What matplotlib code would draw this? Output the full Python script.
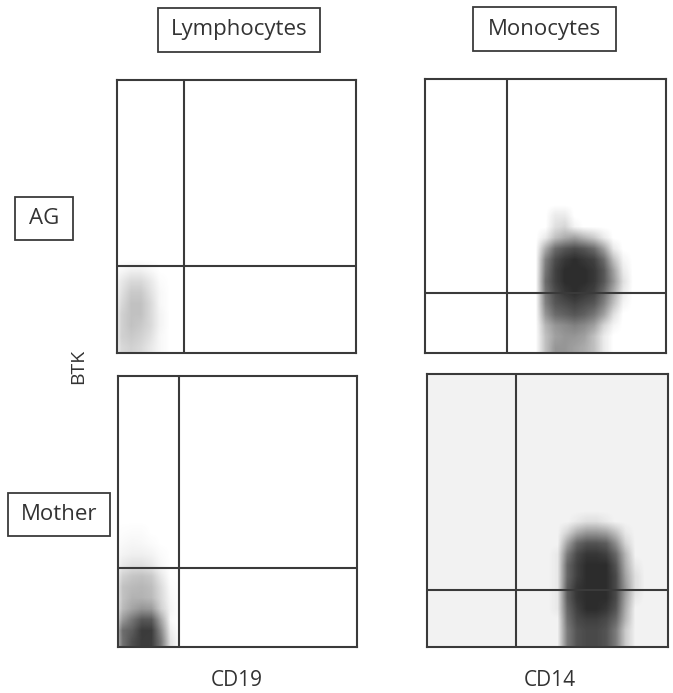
import numpy as np
import matplotlib.pyplot as plt
from matplotlib.colors import LinearSegmentedColormap
from matplotlib.patches import Rectangle

# column / row headers
col_names = ['Lymphocytes', 'Monocytes']
row_names = ['AG', 'Mother']
x_labels = ['CD19', 'CD14']
y_label = 'BTK'

# quadrant gates (percent of axis), [AG, Mother] x [lymph, mono]
gate_x = [[28, 34], [25.5, 37]]
gate_y = [[32, 22], [29, 21]]

# event density, rows bottom -> top
ag_lymph_ext = [0, 24, 0, 32]
ag_lymph = [
    [0.5, 0.6, 0.5, 0.3, 0.1, 0],
    [0.6, 0.7, 0.6, 0.4, 0.1, 0],
    [0.6, 0.8, 0.7, 0.5, 0.15, 0],
    [0.6, 0.8, 0.8, 0.5, 0.15, 0],
    [0.5, 0.8, 0.8, 0.5, 0.1, 0],
    [0.4, 0.7, 0.7, 0.4, 0.1, 0],
    [0.3, 0.5, 0.5, 0.3, 0.05, 0],
    [0.1, 0.2, 0.2, 0.1, 0, 0],
]

ag_mono_ext = [48, 84, 0, 52]
ag_mono = [
    [0.3, 0.5, 0.5, 0.45, 0.4, 0.3, 0.1, 0, 0],
    [0.3, 0.45, 0.5, 0.5, 0.45, 0.3, 0.1, 0, 0],
    [0.35, 0.5, 0.55, 0.6, 0.55, 0.45, 0.2, 0.05, 0],
    [0.5, 0.7, 0.75, 0.8, 0.75, 0.65, 0.45, 0.15, 0],
    [0.6, 0.8, 0.85, 0.9, 0.85, 0.8, 0.6, 0.3, 0.05],
    [0.65, 0.85, 0.95, 1.0, 0.95, 0.9, 0.7, 0.4, 0.1],
    [0.7, 0.9, 1.0, 1.0, 1.0, 0.95, 0.8, 0.5, 0.15],
    [0.65, 0.9, 1.0, 1.0, 1.0, 0.95, 0.8, 0.45, 0.1],
    [0.6, 0.85, 0.95, 1.0, 0.95, 0.9, 0.7, 0.3, 0.05],
    [0.4, 0.7, 0.8, 0.85, 0.8, 0.7, 0.45, 0.1, 0],
    [0.1, 0.3, 0.4, 0.45, 0.35, 0.25, 0.1, 0, 0],
    [0, 0.15, 0.2, 0.05, 0, 0, 0, 0, 0],
    [0, 0.1, 0.1, 0, 0, 0, 0, 0, 0],
]

mo_lymph_light_ext = [0, 24, 0, 44]
mo_lymph_light = [
    [0.5, 0.5, 0.5, 0.4, 0.3, 0.1],
    [0.6, 0.6, 0.6, 0.5, 0.3, 0.1],
    [0.7, 0.8, 0.8, 0.7, 0.45, 0.1],
    [0.8, 0.9, 0.9, 0.8, 0.5, 0.15],
    [0.8, 1.0, 1.0, 0.9, 0.5, 0.1],
    [0.8, 0.9, 0.95, 0.85, 0.45, 0.05],
    [0.6, 0.75, 0.8, 0.7, 0.3, 0],
    [0.3, 0.4, 0.4, 0.3, 0.1, 0],
    [0.15, 0.2, 0.2, 0.15, 0.05, 0],
    [0.08, 0.12, 0.1, 0.05, 0, 0],
    [0.03, 0.05, 0.05, 0, 0, 0],
]

mo_lymph_dark_ext = [0, 24, 0, 16]
mo_lymph_dark = [
    [0.6, 0.8, 0.9, 0.9, 0.6, 0.1],
    [0.6, 0.7, 0.9, 0.9, 0.5, 0.05],
    [0.3, 0.5, 0.7, 0.7, 0.3, 0],
    [0.05, 0.15, 0.25, 0.25, 0.05, 0],
]

mo_mono_ext = [52, 88, 0, 48]
mo_mono = [
    [0, 0.6, 0.8, 0.85, 0.85, 0.8, 0.6, 0.2, 0],
    [0, 0.6, 0.8, 0.85, 0.85, 0.8, 0.6, 0.2, 0],
    [0, 0.65, 0.85, 0.9, 0.9, 0.85, 0.7, 0.3, 0],
    [0.05, 0.7, 0.9, 1.0, 1.0, 0.95, 0.8, 0.35, 0],
    [0.05, 0.75, 0.95, 1.0, 1.0, 1.0, 0.85, 0.4, 0.05],
    [0.05, 0.75, 0.95, 1.0, 1.0, 1.0, 0.85, 0.45, 0.1],
    [0.05, 0.7, 0.9, 1.0, 1.0, 1.0, 0.85, 0.4, 0.1],
    [0.05, 0.7, 0.9, 1.0, 1.0, 1.0, 0.8, 0.35, 0.05],
    [0.05, 0.6, 0.85, 0.95, 0.95, 0.9, 0.7, 0.3, 0],
    [0, 0.4, 0.7, 0.8, 0.8, 0.75, 0.5, 0.15, 0],
    [0, 0.15, 0.35, 0.45, 0.45, 0.4, 0.25, 0.05, 0],
    [0, 0, 0.05, 0.1, 0.1, 0.05, 0, 0, 0],
]

plt.rcParams['font.family'] = ['Open Sans', 'DejaVu Sans']
ink = '#3a3a3a'


def dot_cmap(color, top):
    return LinearSegmentedColormap.from_list('d', [color + (0,), color + (top,)])


light = dot_cmap((0.6, 0.6, 0.6), 0.75)
dark = dot_cmap((0.13, 0.13, 0.13), 0.95)

fig = plt.figure(figsize=(6.73, 6.93), dpi=100)
W, H = 673, 693
# panel boxes in pixels: left, top, right, bottom
boxes = [[(117, 80, 356, 353), (425, 79, 666, 353)],
         [(118, 376, 357, 647), (427, 374, 668, 647)]]
clouds = [[[(ag_lymph, ag_lymph_ext, light)],
           [(ag_mono, ag_mono_ext, dark)]],
          [[(mo_lymph_light, mo_lymph_light_ext, light), (mo_lymph_dark, mo_lymph_dark_ext, dark)],
           [(mo_mono, mo_mono_ext, dark)]]]

for r in range(2):
    for c in range(2):
        l, t, rr, b = boxes[r][c]
        ax = fig.add_axes([l / W, 1 - b / H, (rr - l) / W, (b - t) / H])
        if r == 1 and c == 1:
            ax.set_facecolor('#f2f2f2')
        for grid, ext, cm in clouds[r][c]:
            g = np.array(grid)
            # fade out to empty beyond the read cells (not below the axis floor)
            dx = (ext[1] - ext[0]) / g.shape[1]
            dy = (ext[3] - ext[2]) / g.shape[0]
            g = np.pad(g, ((0, 1), (1, 1)))
            e = [ext[0] - dx, ext[1] + dx, ext[2], ext[3] + dy]
            ax.imshow(g, extent=e, origin='lower', cmap=cm,
                      vmin=0, vmax=1, aspect='auto', interpolation='bilinear')
        ax.axvline(gate_x[r][c], color=ink, lw=1.5)
        ax.axhline(gate_y[r][c], color=ink, lw=1.5)
        ax.set_xlim(0, 100)
        ax.set_ylim(0, 100)
        ax.set_xticks([])
        ax.set_yticks([])
        for s in ax.spines.values():
            s.set_color(ink)
            s.set_linewidth(1.5)

# header boxes (pixels: left, top, right, bottom)
head_boxes = [(158, 8, 320, 52), (473, 7, 616, 51)]
side_boxes = [(15, 197, 73, 240), (8, 493, 110, 536)]
for name, (l, t, rr, b) in list(zip(col_names, head_boxes)) + list(zip(row_names, side_boxes)):
    fig.patches.append(Rectangle((l / W, 1 - b / H), (rr - l) / W, (b - t) / H,
                                 transform=fig.transFigure, fill=False, ec=ink, lw=1.3))
    fig.text((l + rr) / 2 / W, 1 - (t + b) / 2 / H, name, ha='center', va='center',
             fontsize=16, color='#333333')

fig.text(78 / W, 1 - 366 / H, y_label, rotation=90, ha='center', va='center',
         fontsize=14, color='#333333')
fig.text(237 / W, 1 - 680 / H, x_labels[0], ha='center', va='center', fontsize=15, color='#333333')
fig.text(550 / W, 1 - 680 / H, x_labels[1], ha='center', va='center', fontsize=15, color='#333333')

fig.savefig('out.png', dpi=100)
